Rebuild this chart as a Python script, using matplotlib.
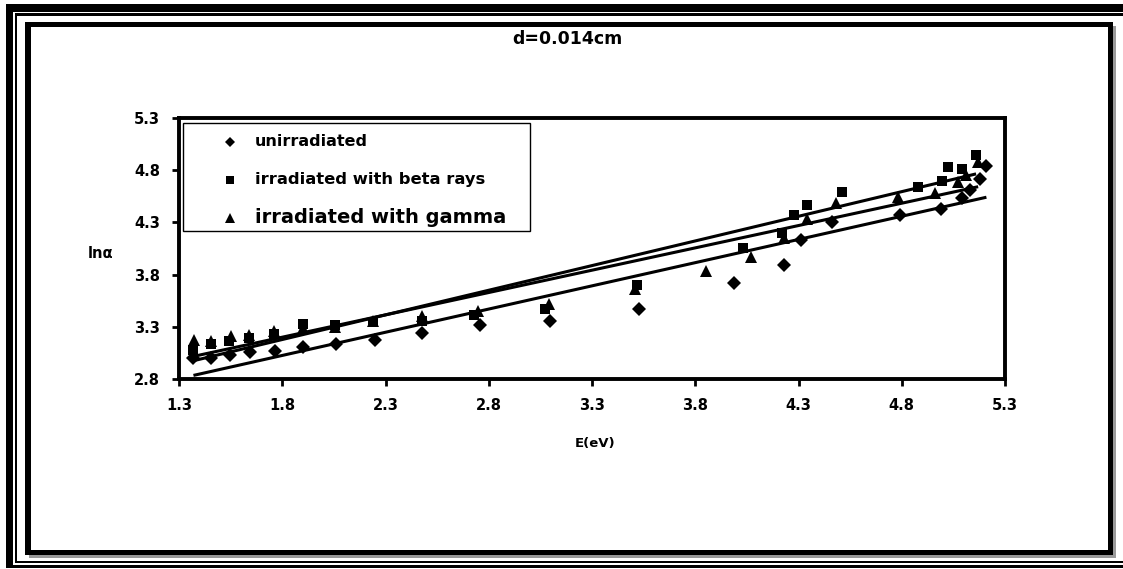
import numpy as np
import matplotlib
matplotlib.use("Agg")
import matplotlib.pyplot as plt
from matplotlib.patches import Rectangle
from matplotlib.lines import Line2D

# photon energy (eV) and ln(alpha) for the three samples
energy_unirr = [1.37, 1.455, 1.547, 1.645, 1.765, 1.90, 2.06, 2.25, 2.475, 2.76,
                3.097, 3.53, 3.99, 4.23, 4.31, 4.46, 4.79, 4.99, 5.09, 5.13, 5.18, 5.21]
lnalpha_unirr = [3.00, 3.00, 3.03, 3.06, 3.07, 3.11, 3.14, 3.17, 3.24, 3.32,
                 3.36, 3.47, 3.72, 3.89, 4.13, 4.30, 4.37, 4.43, 4.53, 4.61, 4.72, 4.84]

energy_beta = [1.366, 1.455, 1.54, 1.64, 1.76, 1.90, 2.055, 2.24, 2.475, 2.73,
               3.07, 3.52, 4.03, 4.22, 4.28, 4.34, 4.51, 4.88, 4.997, 5.025, 5.09, 5.16]
lnalpha_beta = [3.08, 3.14, 3.16, 3.19, 3.23, 3.33, 3.32, 3.35, 3.36, 3.41,
                3.47, 3.70, 4.05, 4.20, 4.37, 4.47, 4.59, 4.64, 4.70, 4.83, 4.81, 4.95]

energy_gamma = [1.375, 1.455, 1.55, 1.64, 1.76, 1.90, 2.055, 2.24, 2.475, 2.75,
                3.09, 3.51, 3.85, 4.07, 4.23, 4.34, 4.48, 4.78, 4.96, 5.07, 5.11, 5.17]
lnalpha_gamma = [3.17, 3.16, 3.21, 3.22, 3.26, 3.29, 3.30, 3.36, 3.40, 3.45,
                 3.52, 3.66, 3.83, 3.97, 4.15, 4.33, 4.49, 4.54, 4.58, 4.69, 4.75, 4.88]

series_labels = ["unirradiated", "irradiated with beta rays", "irradiated with gamma"]
x_ticks = [1.3, 1.8, 2.3, 2.8, 3.3, 3.8, 4.3, 4.8, 5.3]
y_ticks = [2.8, 3.3, 3.8, 4.3, 4.8, 5.3]

plt.rcParams['font.family'] = ['DejaVu Sans']
plt.rcParams['font.weight'] = 'bold'

W, H = 1123, 569
fig = plt.figure(figsize=(W / 100, H / 100), dpi=100)
fig.patch.set_facecolor('white')


def box(x0, y0, x1, y1, color='black', z=5):
    """Filled rectangle given in pixels, y measured from the top edge."""
    fig.add_artist(Rectangle((x0 / W, 1 - y1 / H), (x1 - x0) / W, (y1 - y0) / H,
                             transform=fig.transFigure, facecolor=color,
                             edgecolor='none', zorder=z))


# double page border
box(6, 4, 12.7, 568.3)
box(6, 4, W, 12)
box(6, 565, W, 568.3)
box(15, 13.3, 17.3, 563.3)
box(15, 13.3, W, 15.7)
box(15, 561, W, 563.3)

# chart area frame with a soft shadow
box(1113, 26, 1116, 558, color='#9a9a9a', z=4)
box(29, 555, 1116, 558, color='#9a9a9a', z=4)
box(25, 22, 1113, 27)
box(25, 22, 30.7, 555)
box(1108, 22, 1113, 555)
box(25, 550, 1113, 555)

ax = fig.add_axes([179 / W, 1 - 379 / H, 826 / W, 261 / H])

styles = [dict(marker='D', ms=6.8), dict(marker='s', ms=6.5), dict(marker='^', ms=8.3)]
datasets = [(energy_unirr, lnalpha_unirr), (energy_beta, lnalpha_beta),
            (energy_gamma, lnalpha_gamma)]

for (e, v), st in zip(datasets, styles):
    e = np.asarray(e)
    v = np.asarray(v)
    ax.plot(e, v, linestyle='none', color='black', markeredgewidth=0,
            zorder=3, clip_on=False, **st)
    # linear trend line over the measured energy range
    slope, icpt = np.polyfit(e, v, 1)
    xs = np.array([e.min(), e.max()])
    ax.plot(xs, slope * xs + icpt, color='black', lw=2.2, zorder=2,
            solid_capstyle='butt')

ax.set_xlim(1.3, 5.3)
ax.set_ylim(2.8, 5.3)
ax.set_xticks(x_ticks)
ax.set_yticks(y_ticks)
ax.set_xticklabels([f"{t:.1f}" for t in x_ticks], fontsize=10.5, fontweight='bold')
ax.set_yticklabels([f"{t:.1f}" for t in y_ticks], fontsize=10.5, fontweight='bold')
ax.tick_params(axis='both', direction='out', length=5, width=2, color='black')
ax.tick_params(axis='x', pad=8.5)
ax.tick_params(axis='y', pad=8.5)
ax.tick_params(top=False, right=False)
for sp in ax.spines.values():
    sp.set_linewidth(2.8)
    sp.set_color('black')

# titles and axis names
fig.text(567 / W, 1 - 39 / H, "d=0.014cm", ha='center', va='center',
         fontsize=12.5, fontweight='bold')
fig.text(595 / W, 1 - 444 / H, "E(eV)", ha='center', va='center',
         fontsize=9.5, fontweight='bold')
fig.text(88 / W, 1 - 253 / H, "ln\u03b1", ha='left', va='center',
         fontsize=10.5, fontweight='bold')

# legend box
fig.add_artist(Rectangle((183 / W, 1 - 231 / H), (530 - 183) / W, (231 - 123) / H,
                         transform=fig.transFigure, facecolor='white',
                         edgecolor='black', lw=1.0, zorder=6))
legend_rows = [142, 180, 217.5]
legend_sizes = [11.5, 11.8, 14]
legend_ms = [5.5, 5.2, 6.5]
for lab, yrow, fs, st, ms in zip(series_labels, legend_rows, legend_sizes, styles, legend_ms):
    fig.add_artist(Line2D([230 / W], [1 - yrow / H], transform=fig.transFigure,
                          marker=st['marker'], ms=ms, color='black',
                          markeredgewidth=0, linestyle='none', zorder=7))
    fig.text(255 / W, 1 - yrow / H, lab, ha='left', va='center',
             fontsize=fs, fontweight='bold', zorder=7)

fig.savefig("out.png", dpi=100)
